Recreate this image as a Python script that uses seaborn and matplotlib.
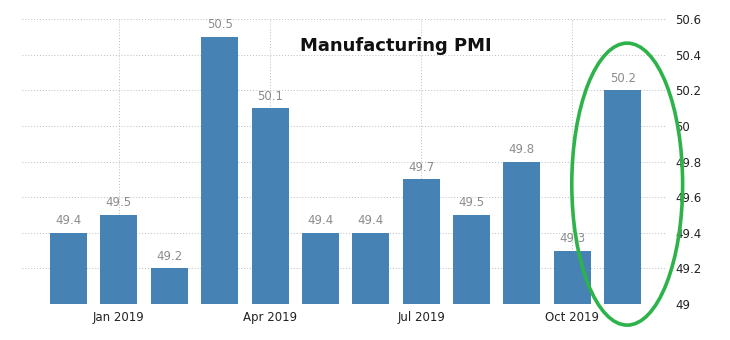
import matplotlib
matplotlib.use("Agg")
import matplotlib.pyplot as plt
from matplotlib.patches import Ellipse
import seaborn as sns
import pandas as pd

months = ["Dec 2018", "Jan 2019", "Feb 2019", "Mar 2019", "Apr 2019", "May 2019",
          "Jun 2019", "Jul 2019", "Aug 2019", "Sep 2019", "Oct 2019", "Nov 2019"]
values = [49.4, 49.5, 49.2, 50.5, 50.1, 49.4, 49.4, 49.7, 49.5, 49.8, 49.3, 50.2]
shown_ticks = ["Jan 2019", "Apr 2019", "Jul 2019", "Oct 2019"]
y_ticks = [49, 49.2, 49.4, 49.6, 49.8, 50, 50.2, 50.4, 50.6]
y_tick_labels = ["49", "49.2", "49.4", "49.6", "49.8", "50", "50.2", "50.4", "50.6"]
title = "Manufacturing PMI"

df = pd.DataFrame({"month": months, "pmi": values})

sns.set_theme(style="white")
plt.rcParams["font.family"] = ["DejaVu Sans"]

fig = plt.figure(figsize=(7.3, 3.4), dpi=100)
ax = fig.add_axes([22 / 730, 36 / 340, (667 - 22) / 730, (304 - 19) / 340])

sns.barplot(data=df, x="month", y="pmi", color="#4682b4", saturation=1,
            width=0.735, ax=ax, zorder=3, edgecolor="none", linewidth=0)

ax.set_ylim(49, 50.6)
ax.set_xlim(-0.923, 11.88)

for i, v in enumerate(values):
    ax.annotate(f"{v}", (i, v), xytext=(0, 4), textcoords="offset points",
                ha="center", va="bottom", fontsize=8.5, color="#8c8c8c", zorder=4)

ax.yaxis.tick_right()
ax.set_yticks(y_ticks)
ax.set_yticklabels(y_tick_labels, fontsize=8.5, color="#222222")
ax.tick_params(axis="y", length=0, pad=6)

tick_pos = [months.index(m) for m in shown_ticks]
ax.set_xticks(tick_pos)
ax.set_xticklabels(shown_ticks, fontsize=8.5, color="#222222")
ax.tick_params(axis="x", length=0, pad=5)

ax.grid(True, axis="both", color="#bdbdbd", linestyle=(0, (1, 2)), linewidth=0.7, zorder=0)
ax.set_axisbelow(True)
for s in ax.spines.values():
    s.set_visible(False)
ax.set_xlabel("")
ax.set_ylabel("")

ax.text(0.58, 0.905, title, transform=ax.transAxes, ha="center", va="center",
        fontsize=13, fontweight="bold", color="#111111")

ell = Ellipse((11.09, 49.673), width=2.2, height=1.583, fill=False,
              edgecolor="#2db34a", linewidth=2.6, clip_on=False, zorder=5)
ax.add_patch(ell)

fig.savefig("out.png", dpi=100)
